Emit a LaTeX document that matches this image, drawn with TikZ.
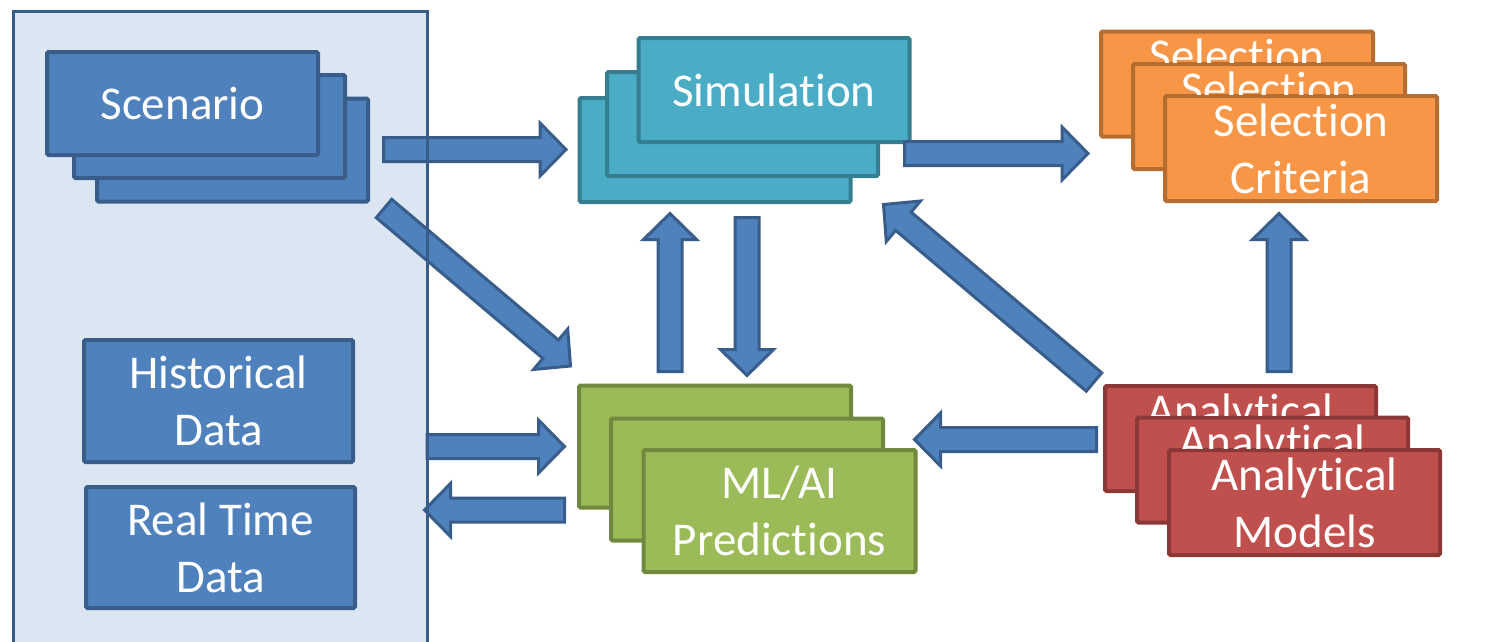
\documentclass[tikz,border=0pt]{standalone}
\usepackage{fontspec}
\setmainfont{Carlito}[Ligatures=NoCommon]
\usetikzlibrary{calc}
\definecolor{bfill}{HTML}{4F81BD}
\definecolor{bline}{HTML}{385D8A}
\definecolor{pfill}{HTML}{DCE6F2}
\definecolor{tfill}{HTML}{4BACC6}
\definecolor{tline}{HTML}{357D91}
\definecolor{ofill}{HTML}{F79646}
\definecolor{oline}{HTML}{B66D31}
\definecolor{rfill}{HTML}{C0504D}
\definecolor{rline}{HTML}{8C3836}
\definecolor{gfill}{HTML}{9BBB59}
\definecolor{gline}{HTML}{71893F}
\tikzset{
  btext/.style={inner sep=0pt, text=white, align=center, font=\fontsize{47}{57}\selectfont},
  box/.style={btext, rectangle, draw, line width=4pt, rounded corners=1.5pt},
  bluebox/.style={box, fill=bfill, draw=bline},
  tealbox/.style={box, fill=tfill, draw=tline, minimum width=271, minimum height=104},
  orangebox/.style={box, fill=ofill, draw=oline, minimum width=272, minimum height=105},
  redbox/.style={box, fill=rfill, draw=rline, minimum width=271, minimum height=105},
  greenbox/.style={box, fill=gfill, draw=gline, minimum width=272, minimum height=122},
  barrow/.style={fill=bfill, draw=bline, line width=3pt, line join=miter},
  panel/.style={rectangle, fill=pfill, inner sep=0pt, minimum width=414, minimum height=660, anchor=north west}
}
% block arrow from tail #1 to tip #2
\newcommand\blockarr[2]{%
  \path ($(#2)!26pt!(#1)$) coordinate (hb);
  \draw[barrow] ($(#1)!12pt!90:(#2)$) -- ($(hb)!12pt!90:(#2)$) -- ($(hb)!26.5pt!90:(#2)$)
    -- (#2) -- ($(hb)!26.5pt!-90:(#2)$) -- ($(hb)!12pt!-90:(#2)$) -- ($(#1)!12pt!-90:(#2)$) -- cycle;
}
% text of a back box, visible only above the box in front of it: #1 box, #2 front box, #3 word, #4 hidden word
\newcommand\backtext[4]{%
  \begin{scope}
    \clip (#1.north west) rectangle (#1.east |- #2.north);
    \node[btext] at (#1) {#3\\\phantom{#4}};
  \end{scope}
}
\begin{document}
\begin{tikzpicture}[x=1pt,y=-1pt]
\useasboundingbox (0,0) rectangle (1507,641);
\clip (0,0) rectangle (1507,641);
\fill[white] (0,0) rectangle (1507,641);
% left panel
\node[panel] (panel) at (13,11) {};
% Scenario stack
\node[bluebox, minimum width=271, minimum height=103] (scen3) at (232.5,150) {};
\node[bluebox, minimum width=271, minimum height=103] (scen2) at (209.5,126.5) {};
\node[bluebox, minimum width=271, minimum height=103] (scen1) at (182.5,103.5) {Scenario};
% data boxes
\node[bluebox, minimum width=269, minimum height=122] (hist) at (218.5,401) {Historical\\Data};
\node[bluebox, minimum width=269, minimum height=121] (rt) at (220.5,547.5) {Real Time\\Data};
% Simulation stack
\node[tealbox] (sim3) at (715,150) {};
\node[tealbox] (sim2) at (742.5,124) {};
\node[tealbox] (sim1) at (774,90) {Simulation};
% Selection stack
\node[orangebox] (sel3) at (1237,84) {};
\path (1269,116.5) coordinate (sel2c) (1301,148.5) coordinate (sel1c);
\path (sel2c) ++(-136,-52.5) coordinate (sel2top);
\node[orangebox] (sel2) at (sel2c) {};
\backtext{sel3}{sel2}{Selection}{Criteria}
\node[orangebox] (sel1) at (sel1c) {};
\backtext{sel2}{sel1}{Selection}{Criteria}
\node[btext] (sel1t) at (sel1) {Selection\\Criteria};
% Analytical stack
\node[redbox] (ana3) at (1240.5,438.5) {};
\node[redbox] (ana2) at (1272.5,470) {};
\backtext{ana3}{ana2}{Analytical}{Models}
\node[redbox] (ana1) at (1304.5,502.5) {};
\backtext{ana2}{ana1}{Analytical}{Models}
\node[btext] (ana1t) at (ana1) {Analytical\\Models};
% ML/AI stack
\node[greenbox] (ml3) at (715,446.5) {};
\node[greenbox] (ml2) at (747,479.5) {};
\node[greenbox] (ml1) at (779.5,511) {ML/AI\\Predictions};
% arrow end points
\coordinate (a1s) at (383.5,149.5);  \coordinate (a1e) at (566,149.5);
\coordinate (a2s) at (384,208.5);    \coordinate (a2e) at (570.5,366);
\coordinate (a3s) at (904.5,153.5);  \coordinate (a3e) at (1088,153.5);
\coordinate (a4s) at (670,371.5);    \coordinate (a4e) at (670,213.5);
\coordinate (a5s) at (747,217.5);    \coordinate (a5e) at (747,375.5);
\coordinate (a6s) at (1094,382);     \coordinate (a6e) at (883.5,204.5);
\coordinate (a7s) at (1096.5,439.5); \coordinate (a7e) at (914.5,439.5);
\coordinate (a8s) at (1279,371.5);   \coordinate (a8e) at (1279,213.5);
\coordinate (a9s) at (427,446.5);    \coordinate (a9e) at (564.5,446.5);
\coordinate (a10s) at (564.5,510);   \coordinate (a10e) at (424.5,510);
\blockarr{a1s}{a1e}
\blockarr{a2s}{a2e}
\blockarr{a3s}{a3e}
\blockarr{a4s}{a4e}
\blockarr{a5s}{a5e}
\blockarr{a6s}{a6e}
\blockarr{a7s}{a7e}
\blockarr{a8s}{a8e}
\blockarr{a9s}{a9e}
\blockarr{a10s}{a10e}
% panel border on top
\draw[bline, line width=3pt] (panel.south west) -- (panel.north west) -- (panel.north east) -- (panel.south east);
\end{tikzpicture}
\end{document}
